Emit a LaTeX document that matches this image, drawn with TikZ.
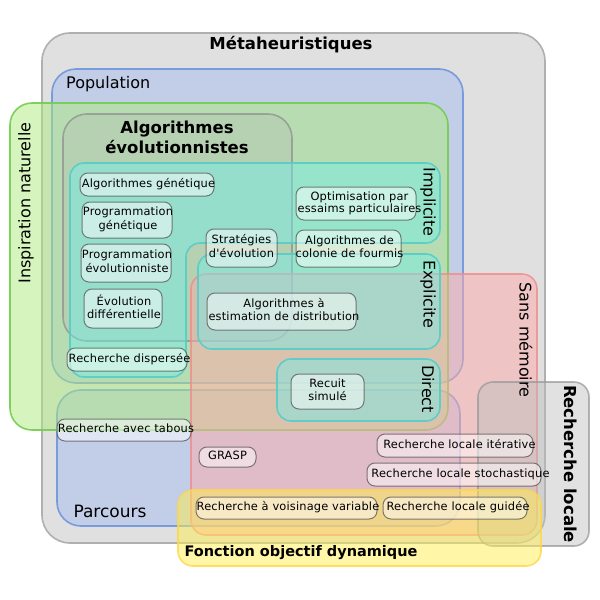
\documentclass[tikz,border=0pt]{standalone}
\usepackage{fontspec}
\setmainfont{DejaVu Sans}
\newfontfamily\nodefam[LetterSpace=1.5]{DejaVu Sans}
\definecolor{metaF}{RGB}{224,224,224}
\definecolor{metaD}{RGB}{176,176,176}
\definecolor{bluF}{RGB}{170,190,240}
\definecolor{bluD}{RGB}{110,150,220}
\definecolor{grnF}{RGB}{175,235,125}
\definecolor{grnD}{RGB}{115,205,80}
\definecolor{aeF}{RGB}{180,180,180}
\definecolor{aeD}{RGB}{140,140,140}
\definecolor{cyaF}{RGB}{110,240,235}
\definecolor{cyaD}{RGB}{85,205,200}
\definecolor{pnkF}{RGB}{255,170,170}
\definecolor{pnkD}{RGB}{240,140,140}
\definecolor{rlF}{RGB}{190,190,190}
\definecolor{rlD}{RGB}{150,150,150}
\definecolor{yelF}{RGB}{255,238,80}
\definecolor{yelD}{RGB}{255,215,70}
\newcommand\nodefnt{\nodefam\fontsize{11.4}{13.5}\selectfont}
\newcommand\nodefnttight{\nodefam\fontsize{11.4}{11}\selectfont}
\newcommand\titlefnt{\fontsize{16.5}{20}\selectfont\bfseries}
\newcommand\labfnt{\fontsize{16}{19}\selectfont}
% text that may overflow its box; optional arg = twice the rightward shift
\newcommand\ovl[2][0pt]{\makebox[0pt]{\hspace*{#1}\raisebox{-1pt}{\begin{tabular}{@{}c@{}}#2\end{tabular}}}}
\begin{document}
\begin{tikzpicture}[x=1pt,y=-1pt,
  region/.style={line width=1.6pt},
  meta/.style={region, rounded corners=28pt, fill=metaF, draw=metaD},
  blu/.style={region, rounded corners=24pt, fill=bluF, fill opacity=0.55, draw=bluD, draw opacity=0.9},
  grn/.style={region, rounded corners=22pt, fill=grnF, fill opacity=0.5, draw=grnD, draw opacity=0.9},
  aebox/.style={region, rounded corners=24pt, fill=aeF, fill opacity=0.28, draw=aeD, draw opacity=0.7},
  cya/.style={region, rounded corners=14pt, fill=cyaF, fill opacity=0.45, draw=cyaD, draw opacity=0.9},
  pnk/.style={region, rounded corners=15pt, fill=pnkF, fill opacity=0.5, draw=pnkD, draw opacity=0.8},
  rlbox/.style={region, rounded corners=15pt, fill=rlF, fill opacity=0.45, draw=rlD, draw opacity=0.7},
  yel/.style={region, rounded corners=15pt, fill=yelF, fill opacity=0.5, draw=yelD, draw opacity=0.8},
  nb/.style={draw=black!70, draw opacity=0.7, fill=white, fill opacity=0.5, text opacity=1,
    rounded corners=8pt, line width=1pt, inner sep=0pt, align=center, font=\nodefnt},
  nbt/.style={nb, font=\nodefnttight},
  ttl/.style={inner sep=0pt, align=center, font=\titlefnt},
  lab/.style={inner sep=0pt, align=center, font=\labfnt}
]
\useasboundingbox (0,0) rectangle (600,600);
\fill[white] (0,0) rectangle (600,600);

% regions
\draw[meta] (42,33) rectangle (545,543);
\draw[blu] (52,69) rectangle (463,383);
\draw[blu] (57,390) rectangle (460,526);
\draw[grn] (10,103) rectangle (448,430);
\draw[aebox] (63,114) rectangle (292,341);
\draw[pnk] (191,274) rectangle (537,535);
\draw[cya] (70,163) -- (440,163) -- (440,243) -- (186,243) -- (186,377) -- (70,377) -- cycle;
\draw[cya] (198,254) rectangle (440,349);
\draw[cya] (277,359) rectangle (440,421);
\draw[rlbox] (478,382) rectangle (589,546);
\draw[yel] (178,490) rectangle (541,566);

% region labels
\node[ttl] (tmeta) at (291,45) {Métaheuristiques};
\node[lab, anchor=west] (tpop) at (66,84) {Population};
\node[ttl] (tae) at (177,137.5) {Algorithmes\\évolutionnistes};
\node[lab, font=\fontsize{17}{20}\selectfont] (tparc) at (110,511) {Parcours};
\node[ttl, font=\fontsize{14.5}{18}\selectfont\bfseries] (tfod) at (301,553) {Fonction objectif dynamique};
\node[lab, rotate=90] (tin) at (26,203) {Inspiration naturelle};
\node[lab, rotate=-90] (timp) at (428,202) {Implicite};
\node[lab, rotate=-90] (texp) at (428,294) {Explicite};
\node[lab, rotate=-90] (tdir) at (428,389) {Direct};
\node[lab, rotate=-90] (tsm) at (526,340) {Sans mémoire};
\node[ttl, rotate=-90] (trl) at (571,464) {Recherche locale};

% algorithm nodes
\node[nb, minimum width=134pt, minimum height=23pt] (ag) at (147,184.5) {\ovl[3pt]{Algorithmes génétique}};
\node[nb, minimum width=90pt, minimum height=36pt] (pg) at (127,220) {\ovl[2pt]{Programmation\\génétique}};
\node[nb, minimum width=90pt, minimum height=38pt] (pe) at (126,263) {\ovl[2pt]{Programmation\\évolutionniste}};
\node[nb, minimum width=78pt, minimum height=39pt] (ed) at (123,308.5) {\ovl[2pt]{Évolution\\différentielle}};
\node[nb, minimum width=120pt, minimum height=23pt] (rd) at (127,359.5) {\ovl[5pt]{Recherche dispersée}};
\node[nb, minimum width=71pt, minimum height=38pt] (se) at (241.5,248) {\ovl{Stratégies\\d'évolution}};
\node[nbt, minimum width=120pt, minimum height=33pt] (pso) at (356,203.5) {\ovl[7pt]{Optimisation par\\essaims particulaires}};
\node[nb, minimum width=105pt, minimum height=37pt] (acf) at (348.5,248.5) {\ovl[2pt]{Algorithmes de\\colonie de fourmis}};
\node[nb, minimum width=149pt, minimum height=37pt] (aed) at (281.5,311.5) {\ovl[5pt]{Algorithmes à\\estimation de distribution}};
\node[nbt, minimum width=73pt, minimum height=35pt] (rs) at (327.5,391.5) {\ovl{Recuit\\simulé}};
\node[nb, minimum width=134pt, minimum height=22pt] (rat) at (124,430) {\ovl[4pt]{Recherche avec tabous}};
\node[nb, minimum width=57pt, minimum height=20pt] (grasp) at (227.5,457) {\ovl{GRASP}};
\node[nb, minimum width=181pt, minimum height=22pt] (rvv) at (286.5,508) {\ovl[3pt]{Recherche à voisinage variable}};
\node[nb, minimum width=144pt, minimum height=22pt] (rlg) at (455,508) {\ovl[6pt]{Recherche locale guidée}};
\node[nb, minimum width=156pt, minimum height=23pt] (rli) at (455,445.5) {\ovl[9pt]{Recherche locale itérative}};
\node[nb, minimum width=174pt, minimum height=23pt] (rls) at (454,474.5) {\ovl[13pt]{Recherche locale stochastique}};
\end{tikzpicture}
\end{document}
